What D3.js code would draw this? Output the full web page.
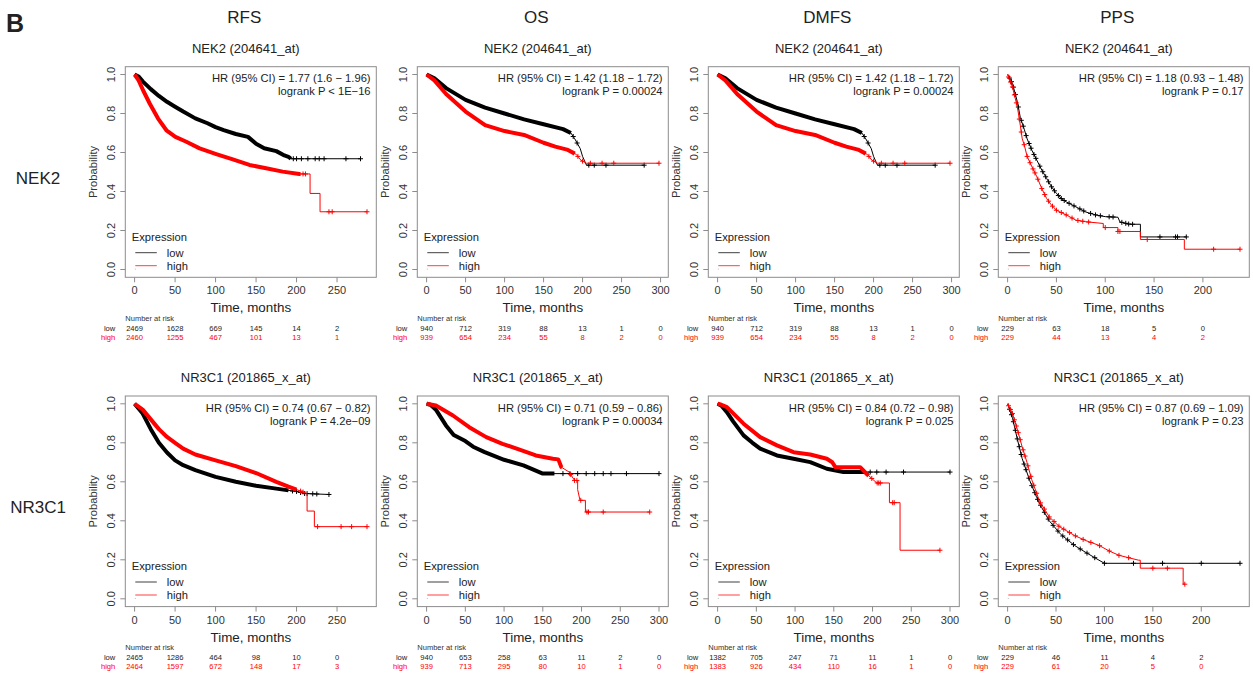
<!DOCTYPE html>
<html>
<head>
<meta charset="utf-8">
<script src="https://cdn.jsdelivr.net/npm/d3@7"></script>
<style>
  body { margin: 0; background: #fff; }
  svg { font-family: "Liberation Sans", Arial, sans-serif; }
</style>
</head>
<body>
<svg id="chart" width="1253" height="675"></svg>
<script>
// Kaplan-Meier grid: NEK2 / NR3C1 x RFS / OS / DMFS / PPS

var columns = ["RFS", "OS", "DMFS", "PPS"];
var rows = ["NEK2", "NR3C1"];
var probes = ["NEK2 (204641_at)", "NR3C1 (201865_x_at)"];

// survival curves, [months, probability]; repeated month = step down
var nek2RfsLow = [[0,1],[5,0.99],[10,0.965],[20,0.925],[30,0.89],[40,0.86],[50,0.835],[60,0.81],[75,0.775],[90,0.75],[100,0.73],[110,0.715],[125,0.695],[140,0.68],[150,0.645],[160,0.622],[175,0.607],[185,0.585],[190,0.578],[193,0.568],[279,0.568]];
var nek2RfsHigh = [[0,1],[5,0.97],[10.6,0.918],[18.8,0.85],[29,0.774],[39.3,0.714],[50.4,0.68],[63.9,0.655],[80.3,0.621],[100.8,0.592],[121.3,0.565],[141.8,0.536],[162.4,0.519],[182.9,0.502],[203.4,0.49],[216.7,0.49],[216.7,0.39],[229,0.39],[229,0.296],[287,0.296]];
var nek2OsLow = [[0,1],[10,0.98],[25,0.93],[50,0.87],[75,0.83],[100,0.8],[125,0.77],[150,0.745],[175,0.72],[185,0.7],[190,0.67],[197,0.62],[200,0.58],[205,0.535],[279,0.535]];
var nek2OsHigh = [[0,1],[10,0.97],[25,0.9],[50,0.81],[75,0.74],[100,0.71],[125,0.69],[150,0.65],[165,0.63],[180,0.615],[192,0.59],[198,0.56],[205,0.545],[298,0.545]];
var nek2PpsLow = [[0,1],[5,0.954],[10,0.86],[13,0.78],[17,0.72],[20,0.67],[25,0.61],[30,0.56],[35,0.51],[40,0.467],[45,0.424],[50,0.39],[55,0.364],[60,0.347],[70,0.321],[80,0.295],[90,0.28],[100,0.271],[113,0.268],[115,0.244],[125,0.232],[136,0.232],[136,0.167],[183,0.167]];
var nek2PpsHigh = [[0,1],[5,0.936],[10,0.834],[13,0.74],[15,0.67],[17,0.64],[20,0.58],[25,0.526],[30,0.475],[35,0.415],[40,0.364],[45,0.33],[50,0.304],[60,0.28],[70,0.253],[80,0.245],[98,0.236],[98,0.215],[113,0.215],[113,0.195],[136,0.195],[136,0.154],[181,0.154],[181,0.104],[238,0.104]];
var nr3c1RfsLow = [[0,1],[10,0.95],[20,0.87],[30,0.8],[40,0.75],[50,0.71],[60,0.685],[75,0.66],[100,0.625],[125,0.6],[150,0.58],[175,0.565],[200,0.55],[210,0.54],[240,0.535]];
var nr3c1RfsHigh = [[0,1],[10,0.97],[20,0.92],[30,0.87],[40,0.83],[50,0.8],[60,0.77],[75,0.74],[100,0.71],[125,0.68],[150,0.645],[175,0.6],[190,0.575],[200,0.56],[213,0.54],[213,0.45],[222,0.45],[222,0.37],[287,0.37]];
var nr3c1OsLow = [[0,1],[5,0.995],[12,0.97],[25,0.889],[35,0.84],[50,0.809],[60,0.78],[75,0.752],[100,0.713],[125,0.684],[150,0.642],[300,0.642]];
var nr3c1OsHigh = [[0,1],[12,0.991],[34,0.94],[55,0.88],[77,0.829],[98,0.795],[120,0.765],[141,0.735],[163,0.718],[170,0.715],[174,0.675],[184,0.65],[191,0.607],[195,0.607],[195,0.56],[198,0.505],[205,0.505],[205,0.445],[288,0.445]];
var nr3c1DmfsLow = [[0,1],[5,0.99],[12,0.957],[20,0.91],[33.5,0.838],[45,0.8],[55,0.77],[76.6,0.735],[98,0.718],[119.6,0.701],[141,0.667],[162.5,0.65],[300,0.65]];
var nr3c1DmfsHigh = [[0,1],[5,0.995],[12,0.983],[33.5,0.898],[55,0.829],[76.6,0.787],[98,0.752],[119.6,0.74],[141,0.718],[148,0.7],[152,0.675],[184,0.675],[192.6,0.64],[205.5,0.594],[221.8,0.594],[221.8,0.493],[235.5,0.493],[235.5,0.249],[287,0.249]];
var nr3c1PpsLow = [[0,1],[5,0.93],[10,0.82],[15,0.72],[22.8,0.607],[30,0.52],[35,0.47],[43,0.4],[55,0.33],[69,0.274],[80,0.24],[94.4,0.198],[100,0.182],[240,0.182]];
var nr3c1PpsHigh = [[0,1],[5,0.95],[10,0.87],[15,0.78],[20,0.7],[25,0.61],[33,0.5],[43,0.42],[53.5,0.37],[69,0.325],[80,0.3],[94.4,0.274],[105,0.245],[115,0.223],[135.3,0.198],[137,0.198],[137,0.157],[181.3,0.157],[181.3,0.075],[183,0.075]];

// months up to which censor marks overlap into a solid band
var nek2RfsDense = [193, 205];
var nek2OsDense = [185, 190];
var nek2PpsDense = [0, 0];
var nr3c1RfsDense = [190, 200];
var nr3c1OsDense = [165, 175];
var nr3c1DmfsDense = [190, 195];
var nr3c1PpsDense = [0, 0];

// separate censor marks (months)
var nek2RfsCensLow = [196, 200, 206, 214, 223, 228, 234, 261, 279];
var nek2RfsCensHigh = [208, 211, 240, 244, 287];
var nek2OsCensLow = [188, 193, 208, 215, 230, 279];
var nek2OsCensHigh = [194, 200, 210, 225, 240, 298];
var nek2PpsCensLow = [2, 4, 6, 8, 11, 14, 16, 19, 22, 24, 27, 29, 33, 36, 39, 42, 45, 48, 52, 55, 58, 63, 68, 74, 78, 85, 90, 95, 104, 108, 117, 121, 124, 128, 156, 172, 174, 183];
var nek2PpsCensHigh = [1, 3, 5, 7, 9, 12, 14, 17, 20, 23, 26, 28, 31, 35, 38, 42, 46, 50, 55, 60, 66, 72, 77, 83, 100, 113, 115, 143, 211, 238];
var nr3c1RfsCensLow = [195, 200, 205, 210, 213, 220, 225, 240];
var nr3c1RfsCensHigh = [205, 208, 226, 255, 268, 287];
var nr3c1OsCensLow = [176, 185, 195, 206, 217, 228, 238, 258, 300];
var nr3c1OsCensHigh = [186, 191, 194, 199, 207, 209, 228, 288];
var nr3c1DmfsCensLow = [197, 205.5, 217.5, 240, 300];
var nr3c1DmfsCensHigh = [199, 206, 208, 210, 226, 228, 287];
var nr3c1PpsCensLow = [2, 4, 6, 8, 10, 12, 14, 17, 19, 22, 25, 28, 31, 34, 38, 42, 47, 52, 57, 62, 68, 75, 82, 90, 100, 130, 160, 200, 240];
var nr3c1PpsCensHigh = [1, 3, 5, 7, 9, 11, 13, 16, 18, 21, 24, 27, 30, 34, 38, 43, 48, 53, 58, 64, 70, 78, 86, 95, 105, 115, 125, 150, 165, 183];

// hazard ratio / logrank text
var hrText = ["HR (95% CI) = 1.77 (1.6 \u2212 1.96)", "HR (95% CI) = 1.42 (1.18 \u2212 1.72)", "HR (95% CI) = 1.42 (1.18 \u2212 1.72)", "HR (95% CI) = 1.18 (0.93 \u2212 1.48)",
              "HR (95% CI) = 0.74 (0.67 \u2212 0.82)", "HR (95% CI) = 0.71 (0.59 \u2212 0.86)", "HR (95% CI) = 0.84 (0.72 \u2212 0.98)", "HR (95% CI) = 0.87 (0.69 \u2212 1.09)"];
var pText = ["logrank P < 1E\u221216", "logrank P = 0.00024", "logrank P = 0.00024", "logrank P = 0.17",
             "logrank P = 4.2e\u221209", "logrank P = 0.00034", "logrank P = 0.025", "logrank P = 0.23"];

// number at risk (at every 50 months)
var nek2RfsRiskLow = [2469, 1628, 669, 145, 14, 2];
var nek2RfsRiskHigh = [2460, 1255, 467, 101, 13, 1];
var nek2OsRiskLow = [940, 712, 319, 88, 13, 1, 0];
var nek2OsRiskHigh = [939, 654, 234, 55, 8, 2, 0];
var nek2PpsRiskLow = [229, 63, 18, 5, 0];
var nek2PpsRiskHigh = [229, 44, 13, 4, 2];
var nr3c1RfsRiskLow = [2465, 1286, 464, 98, 10, 0];
var nr3c1RfsRiskHigh = [2464, 1597, 672, 148, 17, 3];
var nr3c1OsRiskLow = [940, 653, 258, 63, 11, 2, 0];
var nr3c1OsRiskHigh = [939, 713, 295, 80, 10, 1, 0];
var nr3c1DmfsRiskLow = [1382, 705, 247, 71, 11, 1, 0];
var nr3c1DmfsRiskHigh = [1383, 926, 434, 110, 16, 1, 0];
var nr3c1PpsRiskLow = [229, 46, 11, 4, 2];
var nr3c1PpsRiskHigh = [229, 61, 20, 5, 0];

var yTicks = [0, 0.2, 0.4, 0.6, 0.8, 1.0];

// panel table (DMFS NEK2 shows the same curves as OS NEK2)
var panels = [
  {low: nek2RfsLow, high: nek2RfsHigh, dense: nek2RfsDense, cL: nek2RfsCensLow, cH: nek2RfsCensHigh, rL: nek2RfsRiskLow, rH: nek2RfsRiskHigh},
  {low: nek2OsLow, high: nek2OsHigh, dense: nek2OsDense, cL: nek2OsCensLow, cH: nek2OsCensHigh, rL: nek2OsRiskLow, rH: nek2OsRiskHigh},
  {low: nek2OsLow, high: nek2OsHigh, dense: nek2OsDense, cL: nek2OsCensLow, cH: nek2OsCensHigh, rL: nek2OsRiskLow, rH: nek2OsRiskHigh},
  {low: nek2PpsLow, high: nek2PpsHigh, dense: nek2PpsDense, cL: nek2PpsCensLow, cH: nek2PpsCensHigh, rL: nek2PpsRiskLow, rH: nek2PpsRiskHigh},
  {low: nr3c1RfsLow, high: nr3c1RfsHigh, dense: nr3c1RfsDense, cL: nr3c1RfsCensLow, cH: nr3c1RfsCensHigh, rL: nr3c1RfsRiskLow, rH: nr3c1RfsRiskHigh},
  {low: nr3c1OsLow, high: nr3c1OsHigh, dense: nr3c1OsDense, cL: nr3c1OsCensLow, cH: nr3c1OsCensHigh, rL: nr3c1OsRiskLow, rH: nr3c1OsRiskHigh},
  {low: nr3c1DmfsLow, high: nr3c1DmfsHigh, dense: nr3c1DmfsDense, cL: nr3c1DmfsCensLow, cH: nr3c1DmfsCensHigh, rL: nr3c1DmfsRiskLow, rH: nr3c1DmfsRiskHigh},
  {low: nr3c1PpsLow, high: nr3c1PpsHigh, dense: nr3c1PpsDense, cL: nr3c1PpsCensLow, cH: nr3c1PpsCensHigh, rL: nr3c1PpsRiskLow, rH: nr3c1PpsRiskHigh}
];

var svg = d3.select("#chart");
var colLeft = [125.3, 417.3, 708.3, 998.3];
var rowTop = [66.7, 396];
var boxW = 251, boxH = 210.6;
var RED = "#ff0000", BOX = "#8c8c8c";

// survival value at month t (linear between listed points)
function survAt(pts, t) {
  var s = pts[0][1];
  for (var i = 1; i < pts.length; i++) {
    if (pts[i][0] <= t) { s = pts[i][1]; }
    else {
      var a = pts[i - 1], b = pts[i];
      if (b[0] > a[0]) s = a[1] + (b[1] - a[1]) * (t - a[0]) / (b[0] - a[0]);
      break;
    }
  }
  return s;
}

// column headers and row labels
svg.selectAll(".colhead").data(columns).enter().append("text")
  .attr("x", function (d, i) { return colLeft[i] + boxW / 2 - 6.5; })
  .attr("y", 23)
  .attr("text-anchor", "middle")
  .attr("font-size", 17)
  .attr("fill", "#222")
  .text(function (d) { return d; });

svg.selectAll(".rowhead").data(rows).enter().append("text")
  .attr("x", 38)
  .attr("y", function (d, i) { return rowTop[i] + boxH / 2 + 11.5; })
  .attr("text-anchor", "middle")
  .attr("font-size", 17)
  .attr("fill", "#222")
  .text(function (d) { return d; });

svg.append("text").attr("x", 6).attr("y", 32)
  .attr("font-size", 25).attr("font-weight", "bold").attr("fill", "#222")
  .text("B");

panels.forEach(function (p, i) {
  var col = i % 4, row = Math.floor(i / 4);
  var g = svg.append("g").attr("transform", "translate(" + colLeft[col] + "," + rowTop[row] + ")");

  var xMax = d3.max([p.low[p.low.length - 1][0], p.high[p.high.length - 1][0]]);
  var x = d3.scaleLinear().domain([-0.04 * xMax, 1.04 * xMax]).range([0, boxW]);
  var y = d3.scaleLinear().domain([-0.04, 1.04]).range([boxH, 0]);
  var xTicks = d3.range(0, x.domain()[1], 50);

  // box
  g.append("rect").attr("width", boxW).attr("height", boxH)
    .attr("fill", "none").attr("stroke", BOX).attr("stroke-width", 1);

  // y axis
  g.selectAll(".yt").data(yTicks).enter().append("line")
    .attr("x1", -5).attr("x2", 0)
    .attr("y1", function (d) { return y(d); }).attr("y2", function (d) { return y(d); })
    .attr("stroke", BOX);
  g.selectAll(".yl").data(yTicks).enter().append("text")
    .attr("transform", function (d) { return "translate(-10.3," + y(d) + ") rotate(-90)"; })
    .attr("text-anchor", "middle")
    .attr("font-size", 11)
    .attr("fill", "#333")
    .text(function (d) { return d3.format(".1f")(d); });
  g.append("text")
    .attr("transform", "translate(-28.3," + boxH / 2 + ") rotate(-90)")
    .attr("text-anchor", "middle").attr("font-size", 11.2).attr("fill", "#333")
    .text("Probability");

  // x axis
  g.selectAll(".xt").data(xTicks).enter().append("line")
    .attr("x1", function (d) { return x(d); }).attr("x2", function (d) { return x(d); })
    .attr("y1", boxH).attr("y2", boxH + 5)
    .attr("stroke", BOX);
  g.selectAll(".xl").data(xTicks).enter().append("text")
    .attr("x", function (d) { return x(d); })
    .attr("y", boxH + 17.2)
    .attr("text-anchor", "middle").attr("font-size", 11).attr("fill", "#333")
    .text(function (d) { return d; });
  g.append("text").attr("x", boxW / 2).attr("y", boxH + 35)
    .attr("text-anchor", "middle").attr("font-size", 13.4).attr("fill", "#222")
    .text("Time, months");

  // title and statistics
  g.append("text").attr("x", boxW / 2 - 5).attr("y", -14.2)
    .attr("text-anchor", "middle").attr("font-size", 13).attr("fill", "#222")
    .text(probes[row]);
  g.append("text").attr("x", boxW - 5.7).attr("y", 15.5)
    .attr("text-anchor", "end").attr("font-size", 11.2).attr("fill", "#222")
    .text(hrText[i]);
  g.append("text").attr("x", boxW - 5.7).attr("y", 28.5)
    .attr("text-anchor", "end").attr("font-size", 11.2).attr("fill", "#222")
    .text(pText[i]);

  // curves
  var line = d3.line()
    .x(function (d) { return x(d[0]); })
    .y(function (d) { return y(d[1]); });

  [[p.low, "#000", p.dense[0], p.cL], [p.high, RED, p.dense[1], p.cH]].forEach(function (s) {
    var pts = s[0], color = s[1], dEnd = s[2], cens = s[3];
    g.append("path").attr("d", line(pts))
      .attr("fill", "none").attr("stroke", color).attr("stroke-width", 1);
    if (dEnd > 0) {
      var part = pts.filter(function (d) { return d[0] < dEnd; });
      part.push([dEnd, survAt(pts, dEnd)]);
      g.append("path").attr("d", line(part))
        .attr("fill", "none").attr("stroke", color).attr("stroke-width", 4)
        .attr("stroke-linejoin", "round");
    }
    var marks = g.append("g").attr("stroke", color).attr("stroke-width", 1);
    cens.forEach(function (t) {
      var cx = x(t), cy = y(survAt(pts, t));
      marks.append("line").attr("x1", cx - 2.5).attr("x2", cx + 2.5).attr("y1", cy).attr("y2", cy);
      marks.append("line").attr("x1", cx).attr("x2", cx).attr("y1", cy - 2.5).attr("y2", cy + 2.5);
    });
  });

  // legend
  g.append("text").attr("x", 6.4).attr("y", boxH - 36.3)
    .attr("font-size", 11.2).attr("fill", "#222").text("Expression");
  [["low", "#000"], ["high", RED]].forEach(function (l, k) {
    var ly = boxH - 24.6 + k * 13;
    g.append("line").attr("x1", 10).attr("x2", 31.5).attr("y1", ly).attr("y2", ly)
      .attr("stroke", l[1]).attr("stroke-width", 1).attr("opacity", 0.75);
    g.append("text").attr("x", 41.5).attr("y", ly + 4)
      .attr("font-size", 11.2).attr("fill", "#222").text(l[0]);
  });
  g.append("rect").attr("x", 9.5).attr("y", boxH - 8.7).attr("width", 1).attr("height", 1).attr("fill", "#bbb");

  // number at risk
  g.append("text").attr("x", 0).attr("y", boxH + 43.7)
    .attr("font-size", 7.5).attr("fill", "#333").text("Number at risk");
  [["low", p.rL, "#222"], ["high", p.rH, RED]].forEach(function (r, k) {
    var ry = boxH + 53.5 + k * 9;
    g.append("text").attr("x", -10).attr("y", ry)
      .attr("text-anchor", "end").attr("font-size", 7.6).attr("fill", r[2]).text(r[0]);
    g.selectAll(".risk" + k).data(r[1]).enter().append("text")
      .attr("x", function (d, j) { return x(xTicks[j]); })
      .attr("y", ry)
      .attr("text-anchor", "middle").attr("font-size", 7.6).attr("fill", r[2])
      .text(function (d) { return d; });
  });
});
</script>
</body>
</html>
